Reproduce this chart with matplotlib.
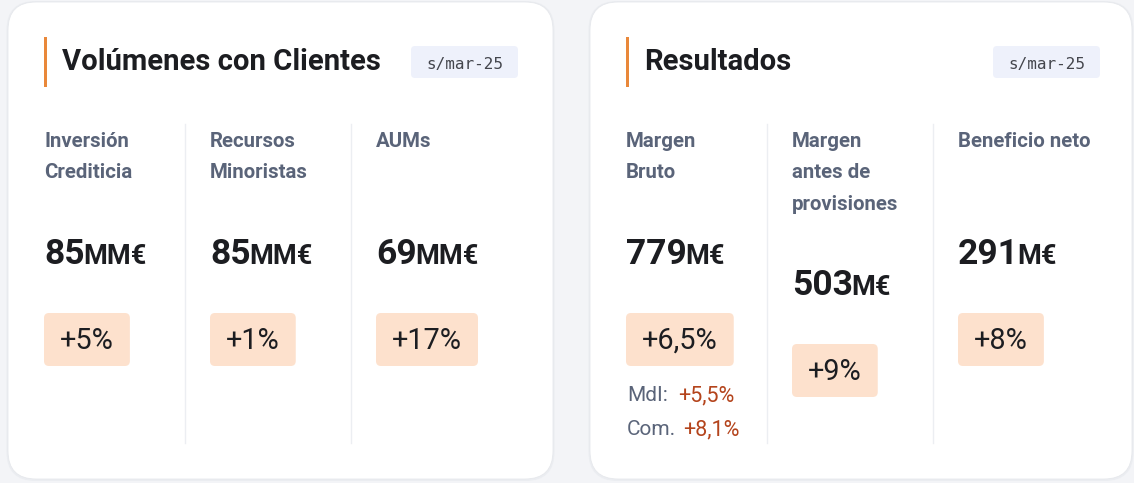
import matplotlib
matplotlib.use("Agg")
import matplotlib.pyplot as plt
from matplotlib.patches import FancyBboxPatch, Rectangle

# ---------------- data ----------------
panel_titles = ["Volúmenes con Clientes", "Resultados"]
date_label = "s/mar-25"

vol_labels = [["Inversión", "Crediticia"], ["Recursos", "Minoristas"], ["AUMs"]]
vol_values = ["85", "85", "69"]
vol_unit = "MM€"
vol_changes = ["+5%", "+1%", "+17%"]

res_labels = [["Margen", "Bruto"], ["Margen", "antes de", "provisiones"], ["Beneficio neto"]]
res_values = ["779", "503", "291"]
res_unit = "M€"
res_changes = ["+6,5%", "+9%", "+8%"]

sub_labels = ["MdI:", "Com."]
sub_values = ["+5,5%", "+8,1%"]

# ---------------- style ----------------
BG = "#f3f4f7"
CARD = "#ffffff"
TITLE_C = "#1c1d21"
LABEL_C = "#5a6479"
BADGE_FILL = "#fde1cd"
DATE_FILL = "#eef1fb"
ACCENT = "#e9883a"
SUB_VAL_C = "#b4441c"
DIV_C = "#eceef2"
FONT = "Roboto"

W, H = 1134, 483
fig = plt.figure(figsize=(W / 100, H / 100), dpi=100, facecolor=BG)
ax = fig.add_axes([0, 0, 1, 1])
ax.set_xlim(0, W)
ax.set_ylim(H, 0)
ax.axis("off")
ax.set_facecolor(BG)
fig.canvas.draw()
renderer = fig.canvas.get_renderer()


def text_width(t):
    bb = t.get_window_extent(renderer=renderer)
    return bb.width


def rrect(x0, y0, x1, y1, r, fc, ec="none", lw=0, z=1):
    p = FancyBboxPatch((x0, y0), x1 - x0, y1 - y0,
                       boxstyle=f"round,pad=0,rounding_size={r}",
                       fc=fc, ec=ec, lw=lw, zorder=z)
    ax.add_patch(p)
    return p


panels = [
    dict(x0=8, x1=553, title=panel_titles[0], labels=vol_labels,
         values=vol_values, unit=vol_unit, changes=vol_changes),
    dict(x0=590, x1=1132, title=panel_titles[1], labels=res_labels,
         values=res_values, unit=res_unit, changes=res_changes),
]

for pi, p in enumerate(panels):
    x0, x1 = p["x0"], p["x1"]
    # card with soft shadow
    rrect(x0 - 1.5, 1, x1 + 1.5, 481, 29, "#ebedf1", z=0.5)
    rrect(x0, 2, x1, 479, 28, CARD, ec="#e6e8ec", lw=0.6, z=1)
    left = x0 + 36
    # accent bar
    ax.add_patch(Rectangle((left, 37), 3, 50, fc=ACCENT, ec="none", zorder=3))
    # title
    ax.text(left + 18, 70, p["title"], fontsize=21.1, fontweight="bold",
            color=TITLE_C, family=FONT, va="baseline", ha="left", zorder=4)
    # date badge
    bx0 = x0 + 403
    rrect(bx0, 46, bx0 + 107, 78, 4, DATE_FILL, z=3)
    ax.text(bx0 + 53.5, 69, date_label, fontsize=11.5, color="#44464d",
            family="DejaVu Sans Mono", va="baseline", ha="center", zorder=4)

    col_w = 166
    for ci in range(3):
        cx = left + ci * col_w
        if ci > 0:
            ax.plot([cx - 25, cx - 25], [124, 443], color=DIV_C, lw=1, zorder=2)
        lines = p["labels"][ci]
        for li, line in enumerate(lines):
            ax.text(cx, 147 + li * 31.5, line, fontsize=14.7, fontweight="bold",
                    color=LABEL_C, family=FONT, va="baseline", ha="left", zorder=4)
        off = max(0, len(lines) - 2) * 31
        # value
        tv = ax.text(cx, 264 + off, p["values"][ci], fontsize=25.5, fontweight="bold",
                     color=TITLE_C, family=FONT, va="baseline", ha="left", zorder=4)
        wv = text_width(tv)
        ax.text(cx + wv - 1.5, 264 + off, p["unit"], fontsize=19.5, fontweight="bold",
                color=TITLE_C, family=FONT, va="baseline", ha="left", zorder=4)
        # change badge
        tc = ax.text(cx + 16, 349 + off, p["changes"][ci], fontsize=20.8,
                     color=TITLE_C, family=FONT, va="baseline", ha="left", zorder=4)
        wc = text_width(tc)
        rrect(cx, 313 + off, cx + wc + 32, 366 + off, 5, BADGE_FILL, z=3)

# sub-breakdown under "Margen Bruto"
sx = panels[1]["x0"] + 37
sub_val_x = [sx + 51, sx + 56]
for i, (lab, val) in enumerate(zip(sub_labels, sub_values)):
    y = 401 + i * 34
    ax.text(sx, y, lab, fontsize=15, color=LABEL_C, family=FONT,
            va="baseline", ha="left", zorder=4)
    ax.text(sub_val_x[i], y, val, fontsize=15.5, color=SUB_VAL_C, family=FONT,
            va="baseline", ha="left", zorder=4)

fig.savefig("out.png", dpi=100, facecolor=BG)
